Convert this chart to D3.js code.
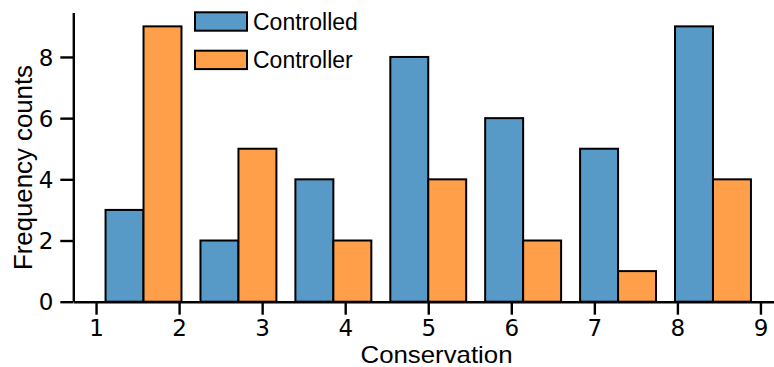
<!DOCTYPE html>
<html>
<head>
<meta charset="utf-8">
<script src="https://cdn.jsdelivr.net/npm/d3@7"></script>
<style>
  body { margin: 0; background: #fff; }
  svg { display: block; }
</style>
</head>
<body>
<script>
'use strict';

// bin edges of the histogram (7 bins between 1 and 9)
const binEdges = [1, 2.143, 3.286, 4.429, 5.571, 6.714, 7.857, 9];
const seriesNames = ["Controlled", "Controller"];
const controlled = [3, 2, 4, 8, 6, 5, 9];
const controller = [9, 5, 2, 4, 2, 1, 4];
const xTicks = [1, 2, 3, 4, 5, 6, 7, 8, 9];
const yTicks = [0, 2, 4, 6, 8];

const colors = ["#5799c7", "#ff9f4a"];

const width = 774, height = 367;

const svg = d3.select('body')
  .append('svg')
  .attr('width', width)
  .attr('height', height);

// x goes past the right edge like in the reference (cropped figure)
const x = d3.scaleLinear()
  .domain([0.726, 9.274])
  .range([73.3, 783.2]);

const y = d3.scaleLinear()
  .domain([0, 9.45])
  .range([301.7, 12.6]);

// bars: each bin holds two bars, 0.4 of the bin width each, offset 0.1
const series = [controlled, controller];
series.forEach((vals, s) => {
  svg.append('g')
    .selectAll('rect')
    .data(vals)
    .enter()
    .append('rect')
      .attr('x', (d, i) => {
        let w = binEdges[i + 1] - binEdges[i];
        return x(binEdges[i] + w * 0.1 + s * w * 0.4);
      })
      .attr('width', (d, i) => {
        let w = binEdges[i + 1] - binEdges[i];
        return x(binEdges[i] + w * 0.4) - x(binEdges[i]);
      })
      .attr('y', (d) => y(d))
      .attr('height', (d) => y(0) - y(d))
      .attr('fill', colors[s])
      .attr('stroke', '#000')
      .attr('stroke-width', 2);
});

// axes
const xAxis = d3.axisBottom(x)
  .tickValues(xTicks)
  .tickSize(13)
  .tickPadding(5)
  .tickSizeOuter(0);
const gx = svg.append('g')
  .attr('transform', 'translate(0,' + y(0) + ')')
  .call(xAxis);

const yAxis = d3.axisLeft(y)
  .tickValues(yTicks)
  .tickSize(13)
  .tickPadding(7)
  .tickSizeOuter(0);
const gy = svg.append('g')
  .attr('transform', 'translate(' + x.range()[0] + ',0)')
  .call(yAxis);

[gx, gy].forEach((g) => {
  g.select('.domain').attr('stroke', '#000').attr('stroke-width', 2.4);
  g.selectAll('.tick line').attr('stroke', '#000').attr('stroke-width', 2.4);
  g.selectAll('.tick text')
    .attr('fill', '#000')
    .style('font-family', 'DejaVu Sans')
    .style('font-size', '23px');
});
gy.selectAll('.tick text').attr('dy', '0.36em');

// axis labels
svg.append('text')
  .attr('x', 436.5)
  .attr('y', 363)
  .attr('text-anchor', 'middle')
  .attr('textLength', 152)
  .attr('lengthAdjust', 'spacingAndGlyphs')
  .style('font-family', 'Liberation Sans')
  .style('font-size', '24px')
  .text('Conservation');

svg.append('text')
  .attr('transform', 'translate(32,167.5)rotate(-90)')
  .attr('text-anchor', 'middle')
  .attr('textLength', 205)
  .attr('lengthAdjust', 'spacingAndGlyphs')
  .style('font-family', 'Liberation Sans')
  .style('font-size', '26px')
  .text('Frequency counts');

// legend
const legend = svg.append('g');
seriesNames.forEach((name, i) => {
  let yTop = 12.3 + i * 38.4;
  legend.append('rect')
    .attr('x', 195)
    .attr('y', yTop)
    .attr('width', 52)
    .attr('height', 18.4)
    .attr('fill', colors[i])
    .attr('stroke', '#000')
    .attr('stroke-width', 2);
  legend.append('text')
    .attr('x', 253)
    .attr('y', yTop + 9.2)
    .attr('dy', '0.36em')
    .style('font-family', 'Liberation Sans')
    .style('font-size', '23px')
    .text(name);
});
</script>
</body>
</html>
